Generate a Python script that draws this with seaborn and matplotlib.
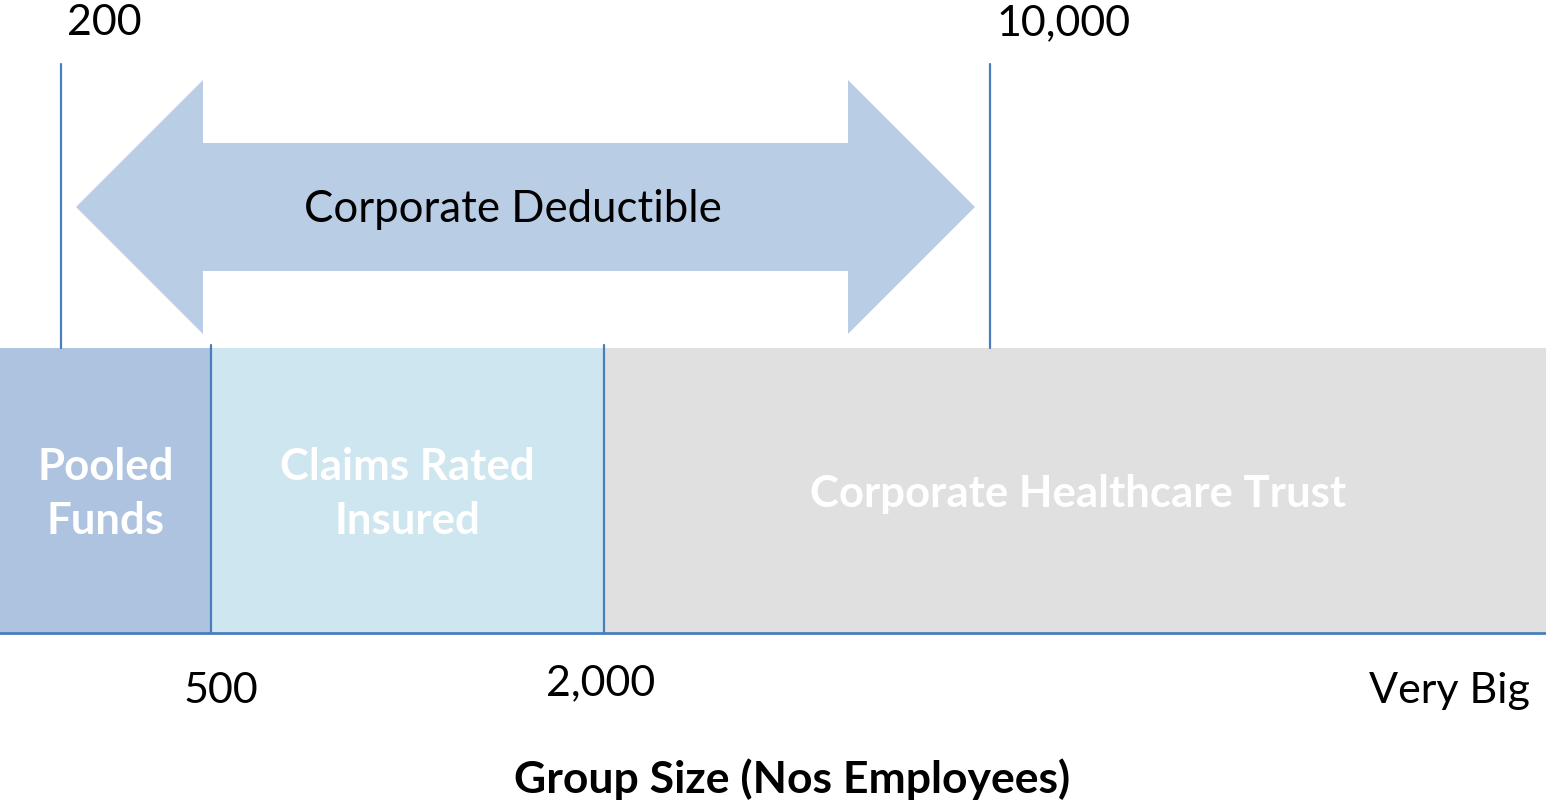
import matplotlib.pyplot as plt
import seaborn as sns
from matplotlib.patches import Polygon

# Group size bands (left to right) and the boundary labels
segments = ["Pooled\nFunds", "Claims Rated\nInsured", "Corporate Healthcare Trust"]
top_marks = ["200", "10,000"]
bottom_marks = ["500", "2,000", "Very Big"]
arrow_label = "Corporate Deductible"
axis_title = "Group Size (Nos Employees)"

# layout (canvas pixels, the diagram is not to scale)
seg_edges = [0, 211, 604, 1546]
seg_colors = ["#ADC3DF", "#CEE6F0", "#E0E0E0"]
band_top, band_bottom = 348, 633
top_mark_x = [61, 990]
bottom_mark_x = [221, 601, 1449]
bottom_mark_y = [691, 683, 691]
line_col = "#4A7EBB"

sns.set_theme(style="white")
plt.rcParams['font.family'] = ['Lato', 'DejaVu Sans']

fig = plt.figure(figsize=(15.46, 8.06), dpi=100)
ax = fig.add_axes([0, 0, 1, 1])
ax.set_xlim(0, 1546)
ax.set_ylim(806, 0)
ax.axis("off")

# bands
lefts = seg_edges[:-1]
widths = [b - a for a, b in zip(seg_edges[:-1], seg_edges[1:])]
ax.barh([(band_top + band_bottom) / 2] * 3, widths, left=lefts,
        height=band_bottom - band_top, color=seg_colors, edgecolor="none")
for i, name in enumerate(segments):
    cx = lefts[i] + widths[i] / 2
    if i == 2:
        cx = 1078
    ax.text(cx, 494, name, ha="center", va="center", color="white",
            fontsize=31.5, fontweight="bold", linespacing=1.45)

# separators and baseline
for x in seg_edges[1:-1]:
    ax.plot([x, x], [345, band_bottom], color=line_col, lw=1.6)
ax.plot([0, 1546], [band_bottom, band_bottom], color=line_col, lw=2)

# deductible limits
for x, lab in zip(top_mark_x, top_marks):
    ax.plot([x, x], [64, band_top], color=line_col, lw=1.6)
    ax.text(x + 6, 23, lab, ha="left", va="center", fontsize=31, color="black")

# double-headed arrow
x0, x1, yc = 76, 975, 207
head_len, shaft_h, head_h = 127, 64, 127
pts = [(x0, yc), (x0 + head_len, yc - head_h), (x0 + head_len, yc - shaft_h),
       (x1 - head_len, yc - shaft_h), (x1 - head_len, yc - head_h), (x1, yc),
       (x1 - head_len, yc + head_h), (x1 - head_len, yc + shaft_h),
       (x0 + head_len, yc + shaft_h), (x0 + head_len, yc + head_h)]
ax.add_patch(Polygon(pts, closed=True, facecolor="#B9CDE5", edgecolor="none"))
ax.text(513, 209, arrow_label, ha="center", va="center", fontsize=31.5, color="black")

for x, y, lab in zip(bottom_mark_x, bottom_mark_y, bottom_marks):
    ax.text(x, y, lab, ha="center", va="center", fontsize=31, color="black")

ax.text(792, 779, axis_title, ha="center", va="center", fontsize=32,
        fontweight="bold", color="black")

fig.savefig("out.png", dpi=100)
